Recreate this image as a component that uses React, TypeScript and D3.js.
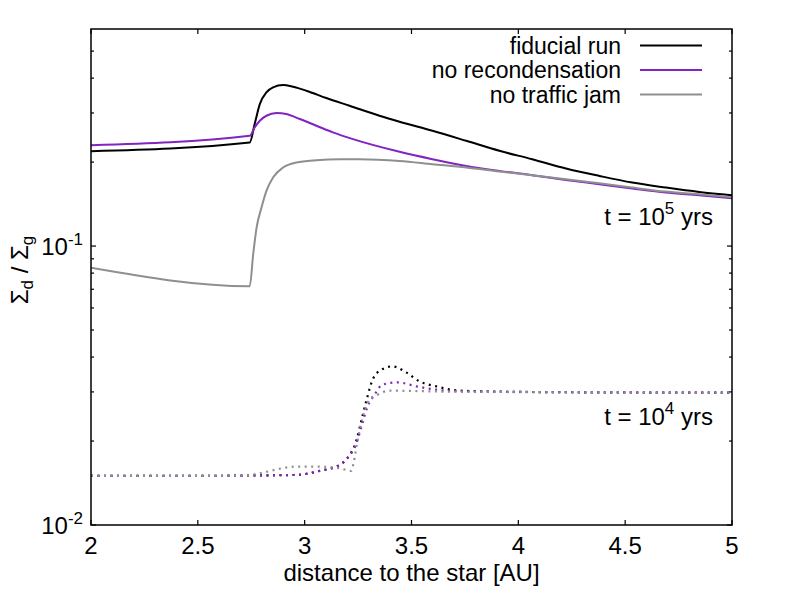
import React from "react";
import * as d3 from "d3";

// ---- data (t = 1e5 yrs, solid) ----
const fiducialX = [2.0, 2.743, 2.766, 2.79, 2.821, 2.852, 2.899, 2.945, 3.008, 3.101, 3.21, 3.35, 3.444, 3.598, 3.756, 3.911, 4.065, 4.223, 4.379, 4.533, 4.69, 4.846, 5.0];
const fiducialY = [0.2189, 0.2352, 0.2737, 0.3229, 0.3557, 0.3708, 0.3779, 0.3726, 0.3606, 0.3394, 0.3184, 0.2932, 0.279, 0.2589, 0.2384, 0.2195, 0.2048, 0.1897, 0.1784, 0.1689, 0.1621, 0.1563, 0.1521];

const noRecondX = [2.0, 2.743, 2.766, 2.79, 2.821, 2.868, 2.914, 2.977, 3.055, 3.132, 3.226, 3.444, 3.598, 3.756, 3.911, 4.065, 4.223, 4.379, 4.533, 4.69, 4.846, 5.0];
const noRecondY = [0.23, 0.2484, 0.2663, 0.2813, 0.2932, 0.2998, 0.2973, 0.2853, 0.2699, 0.2555, 0.2417, 0.2177, 0.2048, 0.1938, 0.186, 0.1795, 0.1726, 0.1666, 0.1608, 0.1555, 0.1521, 0.1484];

const noJamX = [2.0, 2.743, 2.759, 2.775, 2.798, 2.821, 2.852, 2.899, 2.961, 3.055, 3.164, 3.257, 3.444, 3.598, 3.756, 3.911, 4.065, 4.223, 4.379, 4.533, 4.69, 4.846, 5.0];
const noJamY = [0.0836, 0.0718, 0.0934, 0.1164, 0.1374, 0.1576, 0.1761, 0.1913, 0.1994, 0.2032, 0.2048, 0.2048, 0.202, 0.1966, 0.1913, 0.1851, 0.1795, 0.1736, 0.168, 0.1621, 0.1568, 0.1534, 0.1496];

// ---- data (t = 1e4 yrs, dotted) ----
const fiducial4X = [2.0, 2.5, 2.75, 2.963, 3.07, 3.164, 3.201, 3.243, 3.266, 3.29, 3.318, 3.36, 3.411, 3.477, 3.537, 3.617, 3.71, 3.832, 4.145, 5.0];
const fiducial4Y = [0.015, 0.015, 0.01505, 0.01512, 0.01563, 0.01643, 0.01741, 0.02021, 0.02384, 0.02813, 0.03319, 0.03606, 0.03705, 0.03517, 0.03273, 0.03141, 0.03039, 0.03014, 0.02995, 0.02981];

const noRecond4X = [2.0, 2.5, 2.75, 2.963, 3.07, 3.164, 3.201, 3.243, 3.271, 3.294, 3.327, 3.364, 3.435, 3.523, 3.617, 3.738, 4.145, 5.0];
const noRecond4Y = [0.015, 0.015, 0.01505, 0.01512, 0.01563, 0.01643, 0.01741, 0.01971, 0.02326, 0.02655, 0.02931, 0.03185, 0.03246, 0.03141, 0.03056, 0.03014, 0.02995, 0.02981];

const noJam4X = [2.0, 2.5, 2.72, 2.804, 2.897, 2.961, 3.055, 3.164, 3.218, 3.229, 3.248, 3.271, 3.304, 3.341, 3.397, 3.678, 5.0];
const noJam4Y = [0.015, 0.015, 0.01505, 0.01541, 0.01598, 0.0162, 0.0162, 0.01598, 0.01563, 0.0167, 0.02021, 0.02424, 0.02813, 0.02931, 0.03031, 0.03006, 0.02981];

const xTicks = [2, 2.5, 3, 3.5, 4, 4.5, 5];
const xTickLabels = ["2", "2.5", "3", "3.5", "4", "4.5", "5"];
const yMajor = [0.01, 0.1];
const yMajorExp = ["-2", "-1"];
const yMinor = [0.02, 0.03, 0.04, 0.05, 0.06, 0.07, 0.08, 0.09, 0.2, 0.3, 0.4, 0.5];

const legendLabels = ["fiducial run", "no recondensation", "no traffic jam"];
const colors = ["#000000", "#8224c0", "#8f8f8f"];

const W = 789, H = 592;
const L = 91, R = 732, T = 29, B = 525;
const FONT = "'Liberation Sans', Arial, Helvetica, sans-serif";

export default function App() {
  const x = d3.scaleLinear().domain([2, 5]).range([L, R]);
  const y = d3.scaleLog().domain([0.01, 0.6]).range([B, T]);
  const line = d3
    .line<[number, number]>()
    .x((d) => x(d[0]))
    .y((d) => y(d[1]))
    .curve(d3.curveMonotoneX);
  const zip = (a: number[], b: number[]) => a.map((v, i) => [v, b[i]] as [number, number]);

  const solid = [
    { d: zip(fiducialX, fiducialY), c: colors[0] },
    { d: zip(noRecondX, noRecondY), c: colors[1] },
    { d: zip(noJamX, noJamY), c: colors[2] },
  ];
  const dotted = [
    { d: zip(fiducial4X, fiducial4Y), c: colors[0] },
    { d: zip(noRecond4X, noRecond4Y), c: colors[1] },
    { d: zip(noJam4X, noJam4Y), c: colors[2] },
  ];
  const fs = 24;
  const sfs = 17;
  const lgY0 = 45.5;
  const lgDy = 24.5;

  return (
    <svg width={W} height={H} style={{ position: "absolute", left: 0, top: 0, background: "#fff" }} fontFamily={FONT}>
      <defs>
        <clipPath id="plotclip">
          <rect x={L} y={T} width={R - L} height={B - T} />
        </clipPath>
      </defs>
      <rect x={0} y={0} width={W} height={H} fill="#fff" />
      {/* ticks */}
      {xTicks.map((t, i) => (
        <g key={"xt" + i}>
          <line x1={x(t)} x2={x(t)} y1={B} y2={B - 5} stroke="#000" strokeWidth={1.2} />
          <line x1={x(t)} x2={x(t)} y1={T} y2={T + 5} stroke="#000" strokeWidth={1.2} />
          <text x={x(t)} y={554} fontSize={fs} textAnchor="middle" fill="#000">
            {xTickLabels[i]}
          </text>
        </g>
      ))}
      {yMajor.map((t, i) => (
        <g key={"ym" + i}>
          <line x1={L} x2={L + 5} y1={y(t)} y2={y(t)} stroke="#000" strokeWidth={1.2} />
          <line x1={R} x2={R - 5} y1={y(t)} y2={y(t)} stroke="#000" strokeWidth={1.2} />
          <text x={83} y={y(t) + 9} fontSize={fs} textAnchor="end" fill="#000">
            10
            <tspan dy={-10} fontSize={sfs}>
              {yMajorExp[i]}
            </tspan>
          </text>
        </g>
      ))}
      {yMinor.map((t, i) => (
        <g key={"yn" + i}>
          <line x1={L} x2={L + 3} y1={y(t)} y2={y(t)} stroke="#000" strokeWidth={1.2} />
          <line x1={R} x2={R - 3} y1={y(t)} y2={y(t)} stroke="#000" strokeWidth={1.2} />
        </g>
      ))}
      {/* series */}
      <g clipPath="url(#plotclip)" fill="none">
        {solid.map((s, i) => (
          <path key={"s" + i} d={line(s.d) || ""} stroke={s.c} strokeWidth={2} strokeLinejoin="round" />
        ))}
        {dotted.map((s, i) => (
          <path key={"d" + i} d={line(s.d) || ""} stroke={s.c} strokeWidth={2.2} strokeDasharray="2 4.5" />
        ))}
      </g>
      {/* frame */}
      <rect x={L} y={T} width={R - L} height={B - T} fill="none" stroke="#000" strokeWidth={1.5} />
      {/* legend */}
      {legendLabels.map((lab, i) => (
        <g key={"lg" + i}>
          <text x={621} y={lgY0 + i * lgDy + 8} fontSize={23} textAnchor="end" fill="#000">
            {lab}
          </text>
          <line x1={640} x2={702} y1={lgY0 + i * lgDy} y2={lgY0 + i * lgDy} stroke={colors[i]} strokeWidth={2} />
        </g>
      ))}
      {/* annotations */}
      <text x={713} y={225} fontSize={fs} textAnchor="end" fill="#000">
        t = 10<tspan dy={-11} fontSize={sfs}>5</tspan>
        <tspan dy={11}> yrs</tspan>
      </text>
      <text x={713} y={425} fontSize={fs} textAnchor="end" fill="#000">
        t = 10<tspan dy={-11} fontSize={sfs}>4</tspan>
        <tspan dy={11}> yrs</tspan>
      </text>
      {/* axis titles */}
      <text x={(L + R) / 2} y={581} fontSize={fs} textAnchor="middle" fill="#000">
        distance to the star [AU]
      </text>
      <text transform="translate(28,270) rotate(-90)" fontSize={fs} textAnchor="middle" fill="#000">
        Σ<tspan dy={5} fontSize={sfs}>d</tspan>
        <tspan dy={-5}> / Σ</tspan>
        <tspan dy={5} fontSize={sfs}>g</tspan>
      </text>
    </svg>
  );
}
